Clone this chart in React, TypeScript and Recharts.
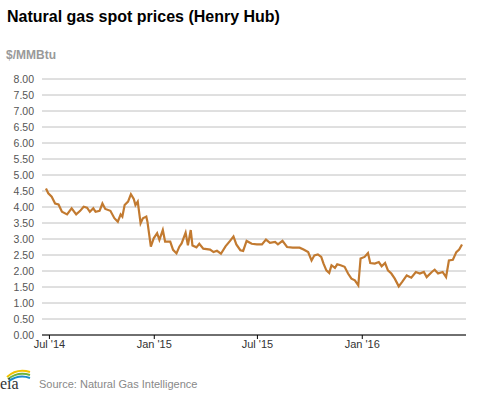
import React from "react";
import { LineChart, Line, XAxis, YAxis, CartesianGrid } from "recharts";

// Henry Hub spot price, $/MMBtu
const dates = [
  "2014-06-25", "2014-06-29", "2014-07-05", "2014-07-11", "2014-07-17", "2014-07-23",
  "2014-08-01", "2014-08-09", "2014-08-17", "2014-08-24", "2014-08-30", "2014-09-05",
  "2014-09-10", "2014-09-16", "2014-09-20", "2014-09-27", "2014-10-02", "2014-10-07",
  "2014-10-16", "2014-10-23", "2014-10-29", "2014-11-03", "2014-11-06", "2014-11-10",
  "2014-11-16", "2014-11-21", "2014-11-26", "2014-11-29", "2014-12-03", "2014-12-08",
  "2014-12-12", "2014-12-18", "2014-12-20", "2014-12-26", "2014-12-31",
  "2015-01-06", "2015-01-10", "2015-01-16", "2015-01-20", "2015-01-29", "2015-02-03",
  "2015-02-09", "2015-02-14", "2015-02-18", "2015-02-25", "2015-03-01", "2015-03-06",
  "2015-03-09", "2015-03-16", "2015-03-21", "2015-03-28", "2015-04-09", "2015-04-15",
  "2015-04-21", "2015-04-28", "2015-05-06", "2015-05-14", "2015-05-20", "2015-05-25",
  "2015-06-01", "2015-06-06", "2015-06-12", "2015-06-21", "2015-06-30", "2015-07-09",
  "2015-07-16", "2015-07-23", "2015-08-01", "2015-08-06", "2015-08-14", "2015-08-22",
  "2015-09-01", "2015-09-13", "2015-09-20", "2015-09-28", "2015-10-04", "2015-10-09",
  "2015-10-15", "2015-10-21", "2015-10-25", "2015-10-30", "2015-11-04", "2015-11-08",
  "2015-11-14", "2015-11-18", "2015-11-24", "2015-12-01", "2015-12-07", "2015-12-13",
  "2015-12-19", "2015-12-25", "2015-12-29",
  "2016-01-05", "2016-01-11", "2016-01-15", "2016-01-23", "2016-01-30", "2016-02-04",
  "2016-02-10", "2016-02-15", "2016-02-21", "2016-02-27", "2016-03-05", "2016-03-11",
  "2016-03-19", "2016-03-27", "2016-04-04", "2016-04-11", "2016-04-18", "2016-04-23",
  "2016-05-02", "2016-05-07", "2016-05-13", "2016-05-21", "2016-05-27", "2016-06-01",
  "2016-06-08", "2016-06-14", "2016-06-19", "2016-06-24",
];

const prices = [
  4.58, 4.43, 4.32, 4.11, 4.08, 3.85, 3.77, 3.96, 3.77, 3.88, 4.01, 3.98,
  3.85, 3.96, 3.85, 3.88, 4.11, 3.94, 3.88, 3.65, 3.54, 3.77, 3.7, 4.06,
  4.17, 4.4, 4.25, 4.06, 4.17, 3.49, 3.65, 3.7, 3.54, 2.76, 3.02,
  3.18, 2.97, 3.28, 2.92, 2.92, 2.66, 2.55, 2.76, 2.86, 3.2, 2.8, 3.28,
  2.8, 2.74, 2.85, 2.7, 2.67, 2.59, 2.63, 2.54, 2.77, 2.94, 3.08, 2.83,
  2.65, 2.63, 2.94, 2.85, 2.83, 2.83, 2.98, 2.88, 2.91, 2.83, 2.94, 2.75,
  2.73, 2.73, 2.67, 2.59, 2.33, 2.49, 2.52, 2.44, 2.23, 2.02, 1.94, 2.18,
  2.1, 2.21, 2.18, 2.13, 1.92, 1.76, 1.71, 1.55, 2.39,
  2.44, 2.56, 2.25, 2.23, 2.28, 2.15, 2.25, 2.02, 1.92, 1.76, 1.52, 1.66,
  1.86, 1.79, 1.97, 1.92, 1.97, 1.81, 1.97, 2.04, 1.92, 1.97, 1.81, 2.33,
  2.35, 2.59, 2.67, 2.83,
];

const xTicks = ["2014-07-01", "2015-01-01", "2015-07-01", "2016-01-01"];
const yTicks = [0, 0.5, 1, 1.5, 2, 2.5, 3, 3.5, 4, 4.5, 5, 5.5, 6, 6.5, 7, 7.5, 8];
const monthNames = ["Jan", "Feb", "Mar", "Apr", "May", "Jun", "Jul", "Aug", "Sep", "Oct", "Nov", "Dec"];

const toTime = (s: string) => {
  const [y, m, d] = s.split("-").map(Number);
  return Date.UTC(y, m - 1, d);
};

const data = dates.map((d, i) => ({ t: toTime(d), price: prices[i] }));

const fmtDate = (t: number) => {
  const d = new Date(t);
  return `${monthNames[d.getUTCMonth()]} '${String(d.getUTCFullYear()).slice(2)}`;
};

const font = "'Liberation Sans', Arial, sans-serif";

export default function App() {
  return (
    <div
      style={{
        position: "absolute",
        top: 0,
        left: 0,
        width: 477,
        height: 393,
        background: "#fff",
        fontFamily: font,
        overflow: "hidden",
      }}
    >
      <div
        style={{
          position: "absolute",
          left: 7,
          top: 8.5,
          fontSize: 16,
          lineHeight: "16px",
          fontWeight: "bold",
          color: "#000",
          whiteSpace: "nowrap",
        }}
      >
        Natural gas spot prices (Henry Hub)
      </div>
      <div
        style={{
          position: "absolute",
          left: 6,
          top: 49,
          fontSize: 12,
          lineHeight: "12px",
          fontWeight: "bold",
          color: "#999",
        }}
      >
        $/MMBtu
      </div>

      <div style={{ position: "absolute", left: 0, top: 0 }}>
        <LineChart
          width={477}
          height={393}
          data={data}
          margin={{ top: 79, right: 11, bottom: 28, left: 0 }}
        >
          <CartesianGrid vertical={false} stroke="#c0c0c0" />
          <XAxis
            dataKey="t"
            type="number"
            scale="time"
            domain={[toTime("2014-06-18"), toTime("2016-07-01")]}
            ticks={xTicks.map(toTime)}
            tickFormatter={fmtDate}
            height={30}
            stroke="#000"
            tickSize={4}
            tickMargin={1}
            tick={{ fill: "#333", fontSize: 11, fontFamily: font }}
          />
          <YAxis
            type="number"
            domain={[0, 8]}
            ticks={yTicks}
            tickFormatter={(v: number) => v.toFixed(2)}
            width={42}
            axisLine={false}
            tickLine={false}
            interval={0}
            tick={{ fill: "#555", fontSize: 10.5, fontFamily: font }}
          />
          <Line
            type="linear"
            dataKey="price"
            stroke="#c27a30"
            strokeWidth={2.2}
            dot={false}
            isAnimationActive={false}
          />
        </LineChart>
      </div>

      <svg width={36} height={26} style={{ position: "absolute", left: 0, top: 366 }}>
        <path d="M7 11 Q17 2 30 6" fill="none" stroke="#f2c200" strokeWidth={2} />
        <path d="M8 13 Q18 5 30 9" fill="none" stroke="#6db33f" strokeWidth={2} />
        <path d="M9 15 Q19 8 30 12" fill="none" stroke="#1b8ccc" strokeWidth={2} />
        <text x={0} y={23} fontFamily="'Liberation Serif', 'DejaVu Serif', serif" fontSize={16} fill="#333">
          eia
        </text>
      </svg>
      <div
        style={{
          position: "absolute",
          left: 39,
          top: 379,
          fontSize: 11,
          lineHeight: "11px",
          color: "#888",
          whiteSpace: "nowrap",
        }}
      >
        Source: Natural Gas Intelligence
      </div>
    </div>
  );
}
